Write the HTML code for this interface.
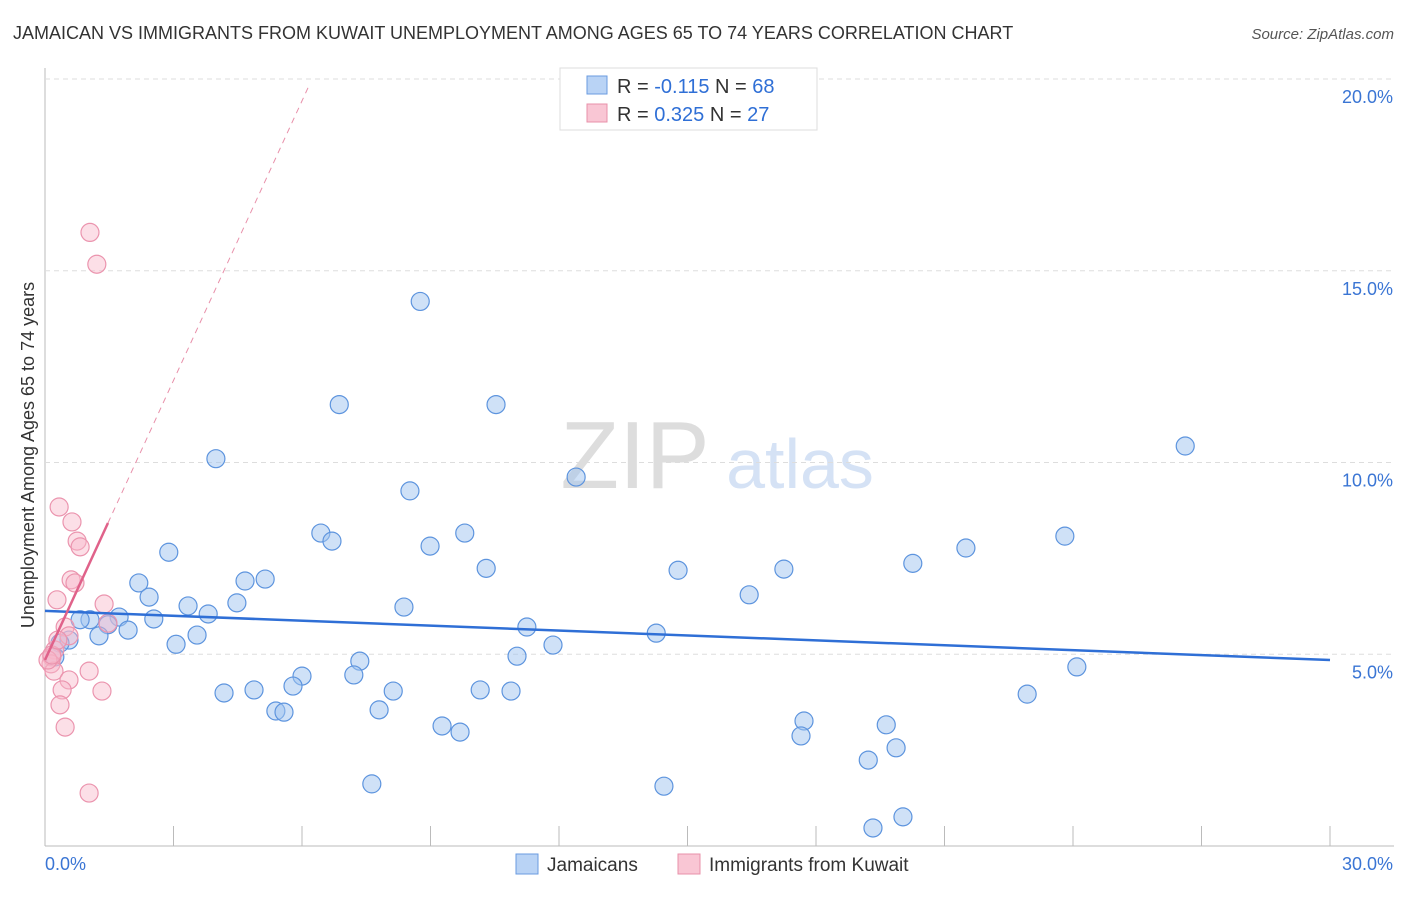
<!DOCTYPE html>
<html><head><meta charset="utf-8"><style>
body{margin:0;background:#fff;font-family:"Liberation Sans",sans-serif}
svg text{font-family:"Liberation Sans",sans-serif}
</style></head><body>
<svg id="c" width="1406" height="892" xmlns="http://www.w3.org/2000/svg">
<text x="13" y="39" font-size="18" fill="#333">JAMAICAN VS IMMIGRANTS FROM KUWAIT UNEMPLOYMENT AMONG AGES 65 TO 74 YEARS CORRELATION CHART</text>
<text x="1394" y="39" font-size="15" fill="#555" font-style="italic" text-anchor="end">Source: ZipAtlas.com</text>
<text x="635" y="488" font-size="96" fill="#ddd" font-family="Liberation Serif" text-anchor="middle">ZIP</text>
<text x="800" y="488" font-size="70" fill="#d5e2f5" text-anchor="middle">atlas</text>
<text transform="translate(34,455) rotate(-90)" font-size="18" fill="#333" text-anchor="middle">Unemployment Among Ages 65 to 74 years</text>
<g id="grid"></g><g id="pts"></g><g id="lines"></g>
<g>
<rect x="560" y="68" width="257" height="62" fill="#fff" stroke="#ddd"/>
<rect x="587" y="76" width="20" height="18" fill="#b9d3f5" stroke="#6a9be0"/>
<rect x="587" y="104" width="20" height="18" fill="#f9c6d4" stroke="#e890aa"/>
<text x="617" y="93" font-size="20" fill="#333">R = <tspan fill="#2f6fd6">-0.115</tspan>   N = <tspan fill="#2f6fd6">68</tspan></text>
<text x="617" y="121" font-size="20" fill="#333">R =  <tspan fill="#2f6fd6">0.325</tspan>   N = <tspan fill="#2f6fd6">27</tspan></text>
</g>
<g>
<rect x="516" y="854" width="22" height="20" fill="#b9d3f5" stroke="#6a9be0"/>
<text x="547" y="871" font-size="19" fill="#333">Jamaicans</text>
<rect x="678" y="854" width="22" height="20" fill="#f9c6d4" stroke="#e890aa"/>
<text x="709" y="871" font-size="19" fill="#333">Immigrants from Kuwait</text>
</g>
</svg>
<script>
const yTicks=[5,10,15,20];
const yTickLabels=["5.0%","10.0%","15.0%","20.0%"];
const jamX=[8.76,6.87,10.53,26.62,12.40,3.99,8.52,6.44,6.70,9.80,8.99,23.81,21.50,2.89,20.26,10.30,14.78,17.25,5.14,4.67,2.19,2.43,16.44,3.34,4.48,3.81,8.38,2.54,1.73,1.05,0.82,1.47,1.94,1.26,3.55,11.25,14.27,3.06,11.86,0.56,0.35,0.23,11.02,7.35,7.21,6.00,24.09,5.79,4.18,4.88,8.13,10.16,10.88,22.93,5.39,5.58,7.80,17.72,19.64,9.27,9.69,17.65,19.87,19.22,7.63,14.45,20.03,19.33];
const jamY=[14.20,11.51,11.51,10.43,9.62,10.10,9.26,8.16,7.95,8.16,7.82,8.08,7.77,7.66,7.37,7.24,7.19,7.22,6.96,6.91,6.86,6.49,6.55,6.26,6.34,6.05,6.23,5.92,5.97,5.90,5.90,5.77,5.63,5.48,5.50,5.71,5.55,5.26,5.24,5.37,5.29,4.93,4.95,4.82,4.46,4.43,4.67,4.17,3.99,4.07,4.04,4.07,4.04,3.96,3.52,3.49,3.55,3.26,3.16,3.13,2.97,2.87,2.56,2.24,1.62,1.56,0.76,0.47];
const kuwX=[1.05,1.21,0.33,0.63,0.75,0.82,0.61,0.70,0.28,1.38,0.47,1.47,0.56,0.23,0.16,0.14,0.21,1.03,0.56,0.40,1.33,0.35,0.47,1.03,0.07,0.16,0.30];
const kuwY=[16.00,15.17,8.84,8.45,7.95,7.80,6.94,6.86,6.42,6.31,5.71,5.81,5.48,5.11,4.93,4.75,4.56,4.56,4.33,4.07,4.04,3.68,3.10,1.38,4.85,4.98,5.37];
const jamTrend=[6.13,4.85];
const kuwTrend=[4.85,2.43];
const X0=45,X1=1330,Y0=846,Y1=79;
const xs=v=>X0+(X1-X0)*v/30, ys=v=>Y0-(Y0-Y1)*v/20;
const NS="http://www.w3.org/2000/svg";
function mk(p,t,a){const e=document.createElementNS(NS,t);for(const k in a)e.setAttribute(k,a[k]);document.getElementById(p).appendChild(e);return e;}
let e=mk('grid','line',{x1:X0,x2:X0,y1:68,y2:846,stroke:'#bbb'});


e=mk('grid','line',{x1:X0,x2:1394,y1:846,y2:846,stroke:'#bbb'});


yTicks.forEach((t,i)=>{
 e=mk('grid','line',{x1:X0,x2:1394,y1:ys(t),y2:ys(t),stroke:'#ddd','stroke-dasharray':'5,4'});
 
 
 e=mk('grid','text',{x:1393,y:ys(t)+24,'font-size':18,fill:'#3a75d4','text-anchor':'end'});
 e.textContent=yTickLabels[i];
 
 
});
for(let i=1;i<=10;i++){
 e=mk('grid','line',{x1:xs(i*3),x2:xs(i*3),y1:826,y2:846,stroke:'#bbb'});
 
 
}
e=mk('grid','text',{x:45,y:870,'font-size':18,fill:'#3a75d4'});e.textContent='0.0%';


e=mk('grid','text',{x:1393,y:870,'font-size':18,fill:'#3a75d4','text-anchor':'end'});e.textContent='30.0%';


jamX.forEach((x,i)=>{
 e=mk('pts','circle',{cx:xs(x),cy:ys(jamY[i]),r:9,fill:'rgba(160,196,240,0.5)',stroke:'#5d94de','stroke-width':1.2});
 
 
});
kuwX.forEach((x,i)=>{
 e=mk('pts','circle',{cx:xs(x),cy:ys(kuwY[i]),r:9,fill:'rgba(248,184,202,0.45)',stroke:'#eb94ae','stroke-width':1.2});
 
 
});
e=mk('lines','line',{x1:xs(0),y1:ys(jamTrend[0]),x2:xs(30),y2:ys(jamTrend[1]),stroke:'#2f6fd6','stroke-width':2.5});


e=mk('lines','line',{x1:xs(1.47),y1:ys(kuwTrend[0]+kuwTrend[1]*1.47),x2:xs(6.14),y2:ys(kuwTrend[0]+kuwTrend[1]*6.14),stroke:'#e890aa','stroke-width':1,'stroke-dasharray':'6,5'});


e=mk('lines','line',{x1:xs(0),y1:ys(kuwTrend[0]),x2:xs(1.47),y2:ys(kuwTrend[0]+kuwTrend[1]*1.47),stroke:'#e0628a','stroke-width':2.5});


</script>
</body></html>
